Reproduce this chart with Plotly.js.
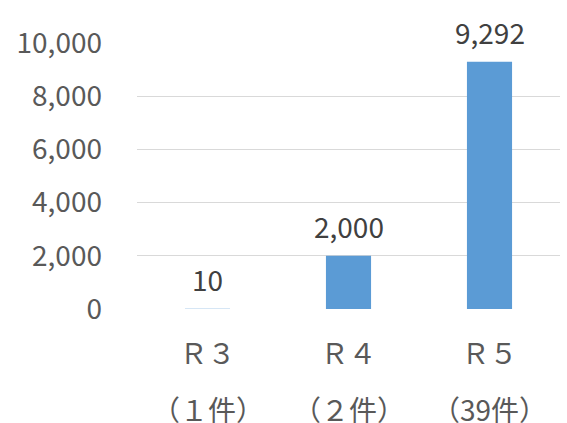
<!DOCTYPE html>
<html>
<head>
<meta charset="utf-8">
<script src="https://cdn.plot.ly/plotly-3.0.1.min.js"></script>
<style>html,body{margin:0;padding:0;background:#fff;}#chart{width:567px;height:423px;}</style>
</head>
<body>
<div id="chart"></div>
<script>
const categories = ["R3", "R4", "R5"];
const yearLabels = ["Ｒ３", "Ｒ４", "Ｒ５"];
const caseLabels = ["（１件）", "（２件）", "（39件）"];
const values = [10, 2000, 9292];
const valueLabels = ["10", "2,000", "9,292"];
const yTickVals = [0, 2000, 4000, 6000, 8000, 10000];
const yTickText = ["0", "2,000", "4,000", "6,000", "8,000", "10,000"];

const FONT = "'Noto Sans CJK JP', 'Noto Sans', sans-serif";

const trace = {
  type: "bar",
  x: categories,
  y: values,
  marker: { color: "#5B9BD5" },
  cliponaxis: false,
  hoverinfo: "none"
};

const caseAnnotations = categories.map((c, i) => ({
  x: c, y: 0, xref: "x", yref: "paper",
  text: caseLabels[i], showarrow: false,
  yanchor: "middle", yshift: -100,
  font: { family: FONT, size: 28, color: "#595959" }
}));

const valueAnnotations = categories.map((c, i) => ({
  x: c, y: values[i], xref: "x", yref: "y",
  text: valueLabels[i], showarrow: false,
  yanchor: "middle", yshift: 30,
  font: { family: FONT, size: 28, color: "#404040" }
}));

const layout = {
  width: 567, height: 423,
  margin: { l: 137, r: 7, t: 43, b: 114 },
  paper_bgcolor: "#fff", plot_bgcolor: "#fff",
  showlegend: false,
  bargap: 0.68,
  font: { family: FONT, size: 28, color: "#595959" },
  xaxis: {
    tickmode: "array", tickvals: categories, ticktext: yearLabels,
    ticks: "", showline: false, showgrid: false, zeroline: false,
    ticklabelstandoff: 26,
    tickfont: { family: FONT, size: 28, color: "#595959" },
    fixedrange: true
  },
  yaxis: {
    range: [0, 10000],
    tickmode: "array", tickvals: yTickVals, ticktext: yTickText,
    ticks: "", showline: false, zeroline: false,
    showgrid: true, gridcolor: "#d9d9d9", gridwidth: 1.3,
    ticklabelstandoff: 34,
    tickfont: { family: FONT, size: 28, color: "#595959" },
    fixedrange: true
  },
  annotations: caseAnnotations.concat(valueAnnotations)
};

Plotly.newPlot("chart", [trace], layout, { displayModeBar: false, staticPlot: true });
</script>
</body>
</html>
